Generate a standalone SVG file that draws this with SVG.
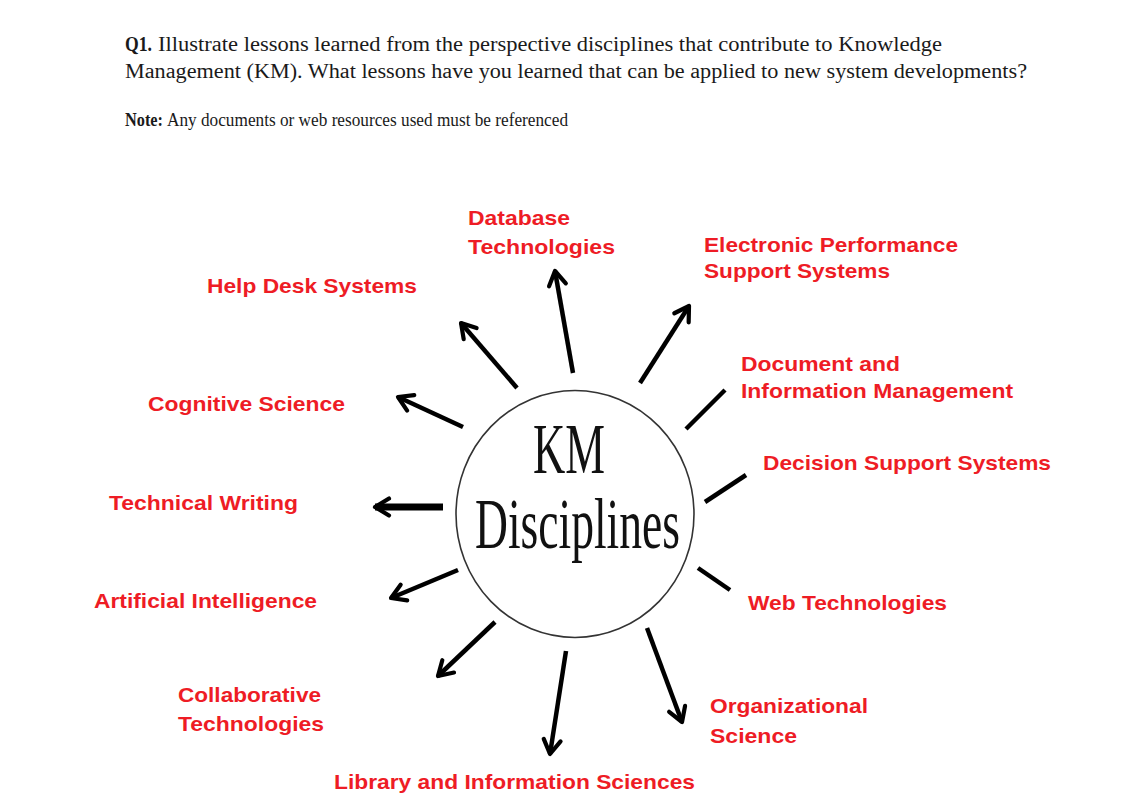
<svg xmlns="http://www.w3.org/2000/svg" width="1135" height="804" viewBox="0 0 1135 804">
<style>
.q{font-family:"Liberation Serif","Times New Roman",serif;font-size:20.5px;fill:#1a1a1a}
.n{font-size:19.5px}
.b{font-weight:bold}
.lbl{font-family:"Liberation Sans",Arial,sans-serif;font-size:21px;font-weight:bold;fill:#ee1c25}
.km{font-family:"Liberation Serif","Times New Roman",serif;font-size:72px;fill:#111}
.c{stroke:#000;stroke-width:4.5;fill:none;stroke-linecap:butt}
</style>
<defs>
<marker id="ah" markerUnits="userSpaceOnUse" markerWidth="40" markerHeight="40" viewBox="-20 -20 40 40" refX="0" refY="0" orient="auto" overflow="visible">
<path d="M-14,-8.5 L0,0 L-14,8.5" fill="none" stroke="#000" stroke-width="4.2" stroke-linejoin="round" stroke-linecap="round"/>
</marker>
</defs>
<rect width="1135" height="804" fill="#fff"/>
<g id="question">
<text class="q b" x="125" y="51" textLength="27" lengthAdjust="spacingAndGlyphs">Q1.</text>
<text class="q" x="158" y="51" textLength="784" lengthAdjust="spacingAndGlyphs">Illustrate lessons learned from the perspective disciplines that contribute to Knowledge</text>
<text class="q" x="125" y="78" textLength="902" lengthAdjust="spacingAndGlyphs">Management (KM). What lessons have you learned that can be applied to new system developments?</text>
<text class="q n b" x="125" y="126" textLength="38" lengthAdjust="spacingAndGlyphs">Note:</text>
<text class="q n" x="167" y="126" textLength="401" lengthAdjust="spacingAndGlyphs">Any documents or web resources used must be referenced</text>
</g>
<g id="center">
<ellipse cx="575" cy="514" rx="119" ry="123.5" fill="#fff" stroke="#333" stroke-width="1.6"/>
<text class="km" x="533" y="473" textLength="72" lengthAdjust="spacingAndGlyphs">KM</text>
<text class="km" x="475" y="548" textLength="205" lengthAdjust="spacingAndGlyphs">Disciplines</text>
</g>
<g id="connectors">
<line class="c" x1="573" y1="373" x2="555" y2="271" marker-end="url(#ah)"/>
<line class="c" x1="517" y1="388" x2="461" y2="323" marker-end="url(#ah)"/>
<line class="c" x1="640" y1="383" x2="689" y2="306" marker-end="url(#ah)"/>
<line class="c" x1="463" y1="427" x2="398" y2="397" marker-end="url(#ah)"/>
<line class="c" x1="686" y1="429" x2="725" y2="390"/>
<line class="c" x1="705" y1="502" x2="746" y2="475"/>
<line class="c" x1="698" y1="568" x2="730" y2="590"/>
<line class="c" x1="443" y1="507" x2="375" y2="507" style="stroke-width:7" marker-end="url(#ah)"/>
<line class="c" x1="458" y1="570" x2="391" y2="598" marker-end="url(#ah)"/>
<line class="c" x1="495" y1="622" x2="438" y2="676" marker-end="url(#ah)"/>
<line class="c" x1="566" y1="651" x2="550" y2="754" marker-end="url(#ah)"/>
<line class="c" x1="647" y1="628" x2="682" y2="722" marker-end="url(#ah)"/>
</g>
<g id="n-database"><text class="lbl" x="468" y="225" textLength="102" lengthAdjust="spacingAndGlyphs">Database</text><text class="lbl" x="468" y="254" textLength="147" lengthAdjust="spacingAndGlyphs">Technologies</text></g>
<g id="n-epss"><text class="lbl" x="704" y="252" textLength="254" lengthAdjust="spacingAndGlyphs">Electronic Performance</text><text class="lbl" x="704" y="278" textLength="186" lengthAdjust="spacingAndGlyphs">Support Systems</text></g>
<g id="n-helpdesk"><text class="lbl" x="207" y="293" textLength="210" lengthAdjust="spacingAndGlyphs">Help Desk Systems</text></g>
<g id="n-document"><text class="lbl" x="741" y="371" textLength="159" lengthAdjust="spacingAndGlyphs">Document and</text><text class="lbl" x="741" y="398" textLength="272" lengthAdjust="spacingAndGlyphs">Information Management</text></g>
<g id="n-cognitive"><text class="lbl" x="148" y="411" textLength="197" lengthAdjust="spacingAndGlyphs">Cognitive Science</text></g>
<g id="n-dss"><text class="lbl" x="763" y="470" textLength="288" lengthAdjust="spacingAndGlyphs">Decision Support Systems</text></g>
<g id="n-techwriting"><text class="lbl" x="109" y="510" textLength="189" lengthAdjust="spacingAndGlyphs">Technical Writing</text></g>
<g id="n-web"><text class="lbl" x="748" y="610" textLength="199" lengthAdjust="spacingAndGlyphs">Web Technologies</text></g>
<g id="n-ai"><text class="lbl" x="94" y="608" textLength="223" lengthAdjust="spacingAndGlyphs">Artificial Intelligence</text></g>
<g id="n-collab"><text class="lbl" x="178" y="702" textLength="143" lengthAdjust="spacingAndGlyphs">Collaborative</text><text class="lbl" x="178" y="731" textLength="146" lengthAdjust="spacingAndGlyphs">Technologies</text></g>
<g id="n-org"><text class="lbl" x="710" y="713" textLength="158" lengthAdjust="spacingAndGlyphs">Organizational</text><text class="lbl" x="710" y="743" textLength="87" lengthAdjust="spacingAndGlyphs">Science</text></g>
<g id="n-library"><text class="lbl" x="334" y="789" textLength="361" lengthAdjust="spacingAndGlyphs">Library and Information Sciences</text></g>
</svg>
